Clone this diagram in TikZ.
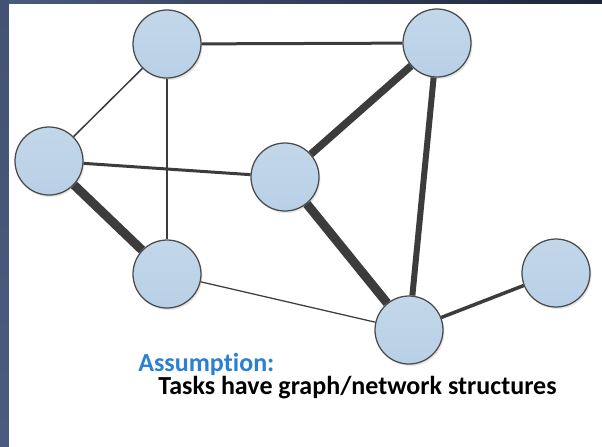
\documentclass[tikz,border=0pt]{standalone}
\usepackage{fontspec}
\setmainfont{Carlito}[Ligatures=NoCommon]
\usetikzlibrary{shadows}
\definecolor{framedark}{HTML}{1D2538}
\definecolor{framelight}{HTML}{4A5B7E}
\definecolor{taskfill}{HTML}{B8D0E6}
\definecolor{taskedge}{HTML}{4A4A4A}
\definecolor{linkgray}{HTML}{3C3C3C}
\definecolor{noteblue}{HTML}{2A80D2}

\begin{document}
\begin{tikzpicture}[x=0.2mm, y=-0.2mm,
  task/.style={circle, draw=taskedge, line width=0.25mm, minimum size=13.6mm, inner sep=0pt,
    top color=taskfill!85!white, bottom color=taskfill,
    drop shadow={opacity=0.2, shadow xshift=0.3mm, shadow yshift=-0.4mm}},
  link/.style={draw=linkgray}]
\path[use as bounding box] (0,0) rectangle (602,446);
\fill[white] (0,0) rectangle (602,446);
% frame
\shade[left color=framelight, right color=framedark] (0,0) rectangle (602,3);
\shade[top color=framelight!90!black, bottom color=framelight] (0,0) rectangle (9,446);
\node[task] (T1) at (167,44) {};
\node[task] (T2) at (437,43) {};
\node[task] (T3) at (49,161) {};
\node[task] (T4) at (285,177) {};
\node[task] (T5) at (167,274) {};
\node[task] (T6) at (409,330) {};
\node[task] (T7) at (556,273) {};
\path[link, line width=0.6mm] (T1) edge (T2);
\path[link, line width=0.3mm] (T1) edge (T3);
\path[link, line width=0.3mm] (T1) edge (T5);
\path[link, line width=0.6mm] (T3) edge (T4);
\path[link, line width=1.8mm] (T3) edge (T5);
\path[link, line width=1.5mm] (T2) edge (T4);
\path[link, line width=1.2mm] (T2) edge (T6);
\path[link, line width=1.8mm] (T4) edge (T6);
\path[link, line width=0.25mm] (T5) edge (T6);
\path[link, line width=0.7mm] (T6) edge (T7);
\node[anchor=base west, font=\bfseries\fontsize{14.8}{17}\selectfont, text=noteblue, inner sep=0pt] (note) at (138,371) {Assumption:};
\node[anchor=base west, font=\bfseries\fontsize{14.8}{17}\selectfont, inner sep=0pt] (claim) at (158,394) {Tasks have graph/network structures};
\end{tikzpicture}
\end{document}
